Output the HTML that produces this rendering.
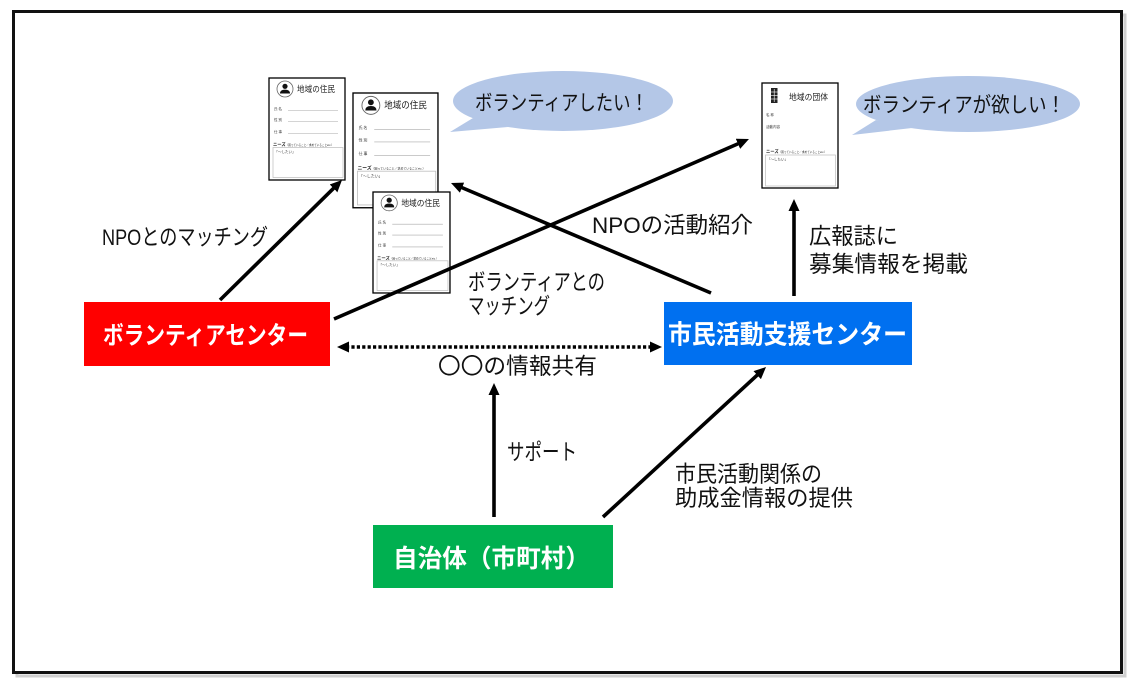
<!DOCTYPE html>
<html><head><meta charset="utf-8"><style>
html,body{margin:0;padding:0;background:#fff;}
svg{display:block;}
text{font-family:"Liberation Sans","Noto Sans CJK JP",sans-serif;}
</style></head><body>
<svg width="1137" height="685" viewBox="0 0 1137 685" xmlns="http://www.w3.org/2000/svg">
<defs>
<marker id="ah" viewBox="0 0 12 11" refX="3" refY="5.5" markerWidth="12" markerHeight="11" orient="auto" markerUnits="userSpaceOnUse"><path d="M0,0 L12,5.5 L0,11 z" fill="#000"/></marker>
<marker id="ahs" viewBox="0 0 12 11" refX="3" refY="5.5" markerWidth="12" markerHeight="11" orient="auto-start-reverse" markerUnits="userSpaceOnUse"><path d="M0,0 L12,5.5 L0,11 z" fill="#000"/></marker>
</defs>
<rect width="1137" height="685" fill="#fff"/>
<rect x="17" y="15" width="1108" height="661" fill="none" stroke="#cfcfcf" stroke-width="3"/>
<rect x="13.5" y="11.5" width="1108" height="661" fill="#fff" stroke="#111" stroke-width="3"/>

<!-- Card 1 -->
<g transform="translate(269,78)">
<rect x="0" y="0" width="76" height="102" fill="#fff" stroke="#000" stroke-width="1.3"/>
<circle cx="16" cy="11" r="8" fill="#fff" stroke="#666" stroke-width="0.8"/>
<circle cx="16" cy="8.3" r="2.6" fill="#111"/>
<path d="M11,15.5 Q11,11.6 16,11.6 Q21,11.6 21,15.5 Z" fill="#111"/>
<text x="28" y="14" font-size="8.5" textLength="38" lengthAdjust="spacingAndGlyphs" fill="#222">地域の住民</text>
<text x="5" y="32" font-size="3.5" fill="#333">氏 名</text><line x1="19" y1="32.5" x2="69" y2="32.5" stroke="#aaa" stroke-width="0.6"/>
<text x="5" y="43" font-size="3.5" fill="#333">性 別</text><line x1="19" y1="43.5" x2="69" y2="43.5" stroke="#aaa" stroke-width="0.6"/>
<text x="5" y="55" font-size="3.5" fill="#333">仕 事</text><line x1="19" y1="55.5" x2="69" y2="55.5" stroke="#aaa" stroke-width="0.6"/>
<text x="4" y="68" font-size="4.3" font-weight="bold" fill="#222">ニーズ<tspan font-size="2.6" font-weight="normal">（困っていること／求めていることetc.）</tspan></text>
<rect x="4" y="69.5" width="70" height="30" fill="#fff" stroke="#bbb" stroke-width="0.7"/>
<text x="5.5" y="75" font-size="3.5" fill="#333">「～したい」</text>
</g>

<!-- Card 2 -->
<g transform="translate(353,93) scale(1.118,1.125)">
<rect x="0" y="0" width="76" height="102" fill="#fff" stroke="#000" stroke-width="1.2"/>
<circle cx="16" cy="11" r="8" fill="#fff" stroke="#666" stroke-width="0.8"/>
<circle cx="16" cy="8.3" r="2.6" fill="#111"/>
<path d="M11,15.5 Q11,11.6 16,11.6 Q21,11.6 21,15.5 Z" fill="#111"/>
<text x="28" y="14" font-size="8.5" textLength="38" lengthAdjust="spacingAndGlyphs" fill="#222">地域の住民</text>
<text x="5" y="32" font-size="3.5" fill="#333">氏 名</text><line x1="19" y1="32.5" x2="69" y2="32.5" stroke="#aaa" stroke-width="0.6"/>
<text x="5" y="43" font-size="3.5" fill="#333">性 別</text><line x1="19" y1="43.5" x2="69" y2="43.5" stroke="#aaa" stroke-width="0.6"/>
<text x="5" y="55" font-size="3.5" fill="#333">仕 事</text><line x1="19" y1="55.5" x2="69" y2="55.5" stroke="#aaa" stroke-width="0.6"/>
<text x="4" y="68" font-size="4.3" font-weight="bold" fill="#222">ニーズ<tspan font-size="2.6" font-weight="normal">（困っていること／求めていることetc.）</tspan></text>
<rect x="4" y="69.5" width="70" height="30" fill="#fff" stroke="#bbb" stroke-width="0.7"/>
<text x="5.5" y="75" font-size="3.5" fill="#333">「～したい」</text>
</g>

<!-- Card 3 -->
<g transform="translate(373,192) scale(1.013,0.99)">
<rect x="0" y="0" width="76" height="102" fill="#fff" stroke="#000" stroke-width="1.3"/>
<circle cx="16" cy="11" r="8" fill="#fff" stroke="#666" stroke-width="0.8"/>
<circle cx="16" cy="8.3" r="2.6" fill="#111"/>
<path d="M11,15.5 Q11,11.6 16,11.6 Q21,11.6 21,15.5 Z" fill="#111"/>
<text x="28" y="14" font-size="8.5" textLength="38" lengthAdjust="spacingAndGlyphs" fill="#222">地域の住民</text>
<text x="5" y="32" font-size="3.5" fill="#333">氏 名</text><line x1="19" y1="32.5" x2="69" y2="32.5" stroke="#aaa" stroke-width="0.6"/>
<text x="5" y="43" font-size="3.5" fill="#333">性 別</text><line x1="19" y1="43.5" x2="69" y2="43.5" stroke="#aaa" stroke-width="0.6"/>
<text x="5" y="55" font-size="3.5" fill="#333">仕 事</text><line x1="19" y1="55.5" x2="69" y2="55.5" stroke="#aaa" stroke-width="0.6"/>
<text x="4" y="68" font-size="4.3" font-weight="bold" fill="#222">ニーズ<tspan font-size="2.6" font-weight="normal">（困っていること／求めていることetc.）</tspan></text>
<rect x="4" y="69.5" width="70" height="30" fill="#fff" stroke="#bbb" stroke-width="0.7"/>
<text x="5.5" y="75" font-size="3.5" fill="#333">「～したい」</text>
</g>

<!-- Card 4 (団体) -->
<g transform="translate(762,83)">
<rect x="0" y="0" width="76" height="105" fill="#fff" stroke="#000" stroke-width="1.3"/>
<rect x="9" y="5" width="6.5" height="15" fill="#222"/>
<g stroke="#fff" stroke-width="0.6"><line x1="9" y1="9" x2="15.5" y2="9"/><line x1="9" y1="12.5" x2="15.5" y2="12.5"/><line x1="9" y1="16" x2="15.5" y2="16"/><line x1="12.2" y1="6" x2="12.2" y2="19"/></g>
<text x="27" y="17" font-size="8.5" textLength="39" lengthAdjust="spacingAndGlyphs" fill="#222">地域の団体</text>
<text x="4" y="33" font-size="3.5" fill="#333">名 称</text>
<text x="4" y="45" font-size="3.5" fill="#333">活動内容</text>
<text x="4" y="70" font-size="4.3" font-weight="bold" fill="#222">ニーズ<tspan font-size="2.6" font-weight="normal">（困っていること／求めていることetc.）</tspan></text>
<rect x="3.5" y="72" width="70" height="31" fill="#fff" stroke="#bbb" stroke-width="0.7"/>
<text x="5" y="77.5" font-size="3.5" fill="#333">「～したい」</text>
</g>

<!-- Speech bubbles -->
<g fill="#b4c7e7">
<ellipse cx="563" cy="101" rx="110" ry="30"/>
<polygon points="473,118 450,132 508,127"/>
<ellipse cx="968" cy="104" rx="112" ry="28"/>
<polygon points="876,120 852,135 912,128"/>
</g>
<text x="475" y="110" font-size="21" textLength="173" lengthAdjust="spacingAndGlyphs" fill="#111">ボランティアしたい！</text>
<text x="863" y="112" font-size="21" textLength="202" lengthAdjust="spacingAndGlyphs" fill="#111">ボランティアが欲しい！</text>

<!-- Boxes -->
<rect x="84" y="302" width="246" height="64" fill="#ff0000"/>
<text x="103" y="344" font-size="25" font-weight="bold" fill="#fff" textLength="205" lengthAdjust="spacingAndGlyphs">ボランティアセンター</text>
<rect x="664" y="302" width="248" height="63" fill="#0070f0"/>
<text x="668" y="343.5" font-size="26" font-weight="bold" fill="#fff" textLength="239" lengthAdjust="spacingAndGlyphs">市民活動支援センター</text>
<rect x="373" y="525" width="240" height="63" fill="#00b050"/>
<text x="393" y="567" font-size="25" font-weight="bold" fill="#fff" textLength="197" lengthAdjust="spacingAndGlyphs">自治体（市町村）</text>

<!-- Arrows -->
<g stroke="#000" stroke-width="3.6" fill="none">
<line x1="220" y1="300" x2="335.6" y2="186.3" marker-end="url(#ah)"/>
<line x1="334" y1="319" x2="740.7" y2="142.6" marker-end="url(#ah)"/>
<line x1="711" y1="293" x2="459.3" y2="186.5" marker-end="url(#ah)"/>
<line x1="794" y1="296" x2="794" y2="208" marker-end="url(#ah)"/>
<line x1="494" y1="517" x2="494" y2="392" marker-end="url(#ah)"/>
<line x1="603" y1="517" x2="759.4" y2="373.1" marker-end="url(#ah)"/>
<line x1="346" y1="347" x2="653" y2="347" stroke-dasharray="3.2,2.2" marker-start="url(#ahs)" marker-end="url(#ah)"/>
</g>

<!-- Labels -->
<g font-size="22.5" fill="#111">
<text x="102" y="245" textLength="166" lengthAdjust="spacingAndGlyphs">NPOとのマッチング</text>
<text x="468" y="290" textLength="137" lengthAdjust="spacingAndGlyphs">ボランティアとの</text>
<text x="468" y="314" textLength="82" lengthAdjust="spacingAndGlyphs">マッチング</text>
<text x="438" y="374" textLength="159" lengthAdjust="spacingAndGlyphs">〇〇の情報共有</text>
<text x="592" y="233" textLength="161" lengthAdjust="spacingAndGlyphs">NPOの活動紹介</text>
<text x="809" y="244" textLength="89" lengthAdjust="spacingAndGlyphs">広報誌に</text>
<text x="809" y="272" textLength="159" lengthAdjust="spacingAndGlyphs">募集情報を掲載</text>
<text x="507" y="460" textLength="70" lengthAdjust="spacingAndGlyphs">サポート</text>
<text x="675" y="482" textLength="147" lengthAdjust="spacingAndGlyphs">市民活動関係の</text>
<text x="675" y="506" textLength="178" lengthAdjust="spacingAndGlyphs">助成金情報の提供</text>
</g>
</svg>
</body></html>
